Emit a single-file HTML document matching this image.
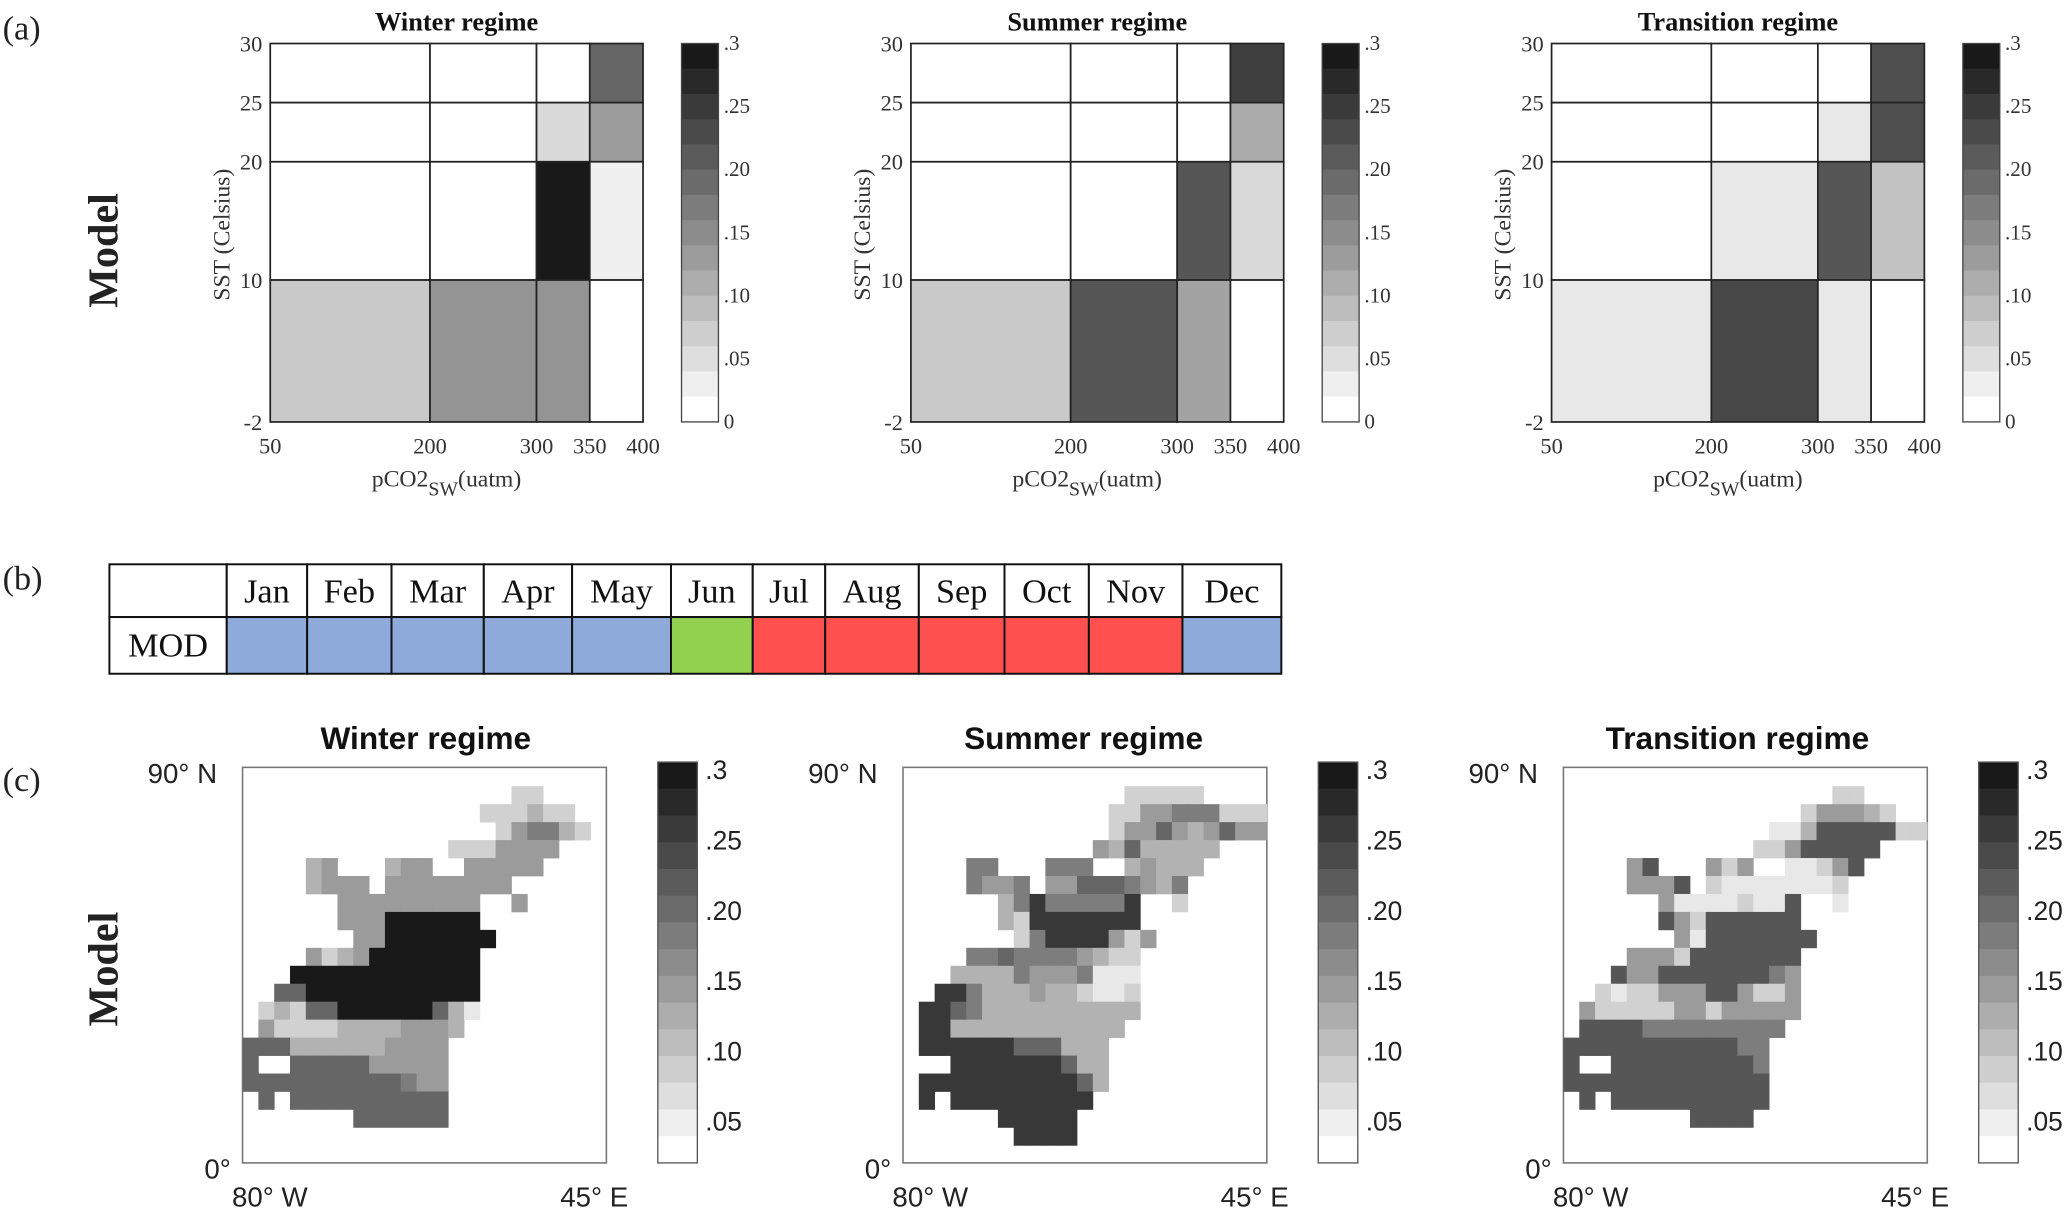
<!DOCTYPE html>
<html><head><meta charset="utf-8"><style>
html,body{margin:0;padding:0;background:#fff;}
svg{display:block;}
.serif{font-family:"Liberation Serif",serif;}
.sans{font-family:"Liberation Sans",sans-serif;}
</style></head><body>
<svg id="root" width="2067" height="1213" viewBox="0 0 1568 920" preserveAspectRatio="none" xmlns="http://www.w3.org/2000/svg">
<g class="serif" fill="#222">
<text x="2" y="30" font-size="26">(a)</text>
<text x="2" y="447" font-size="26">(b)</text>
<text x="2" y="600" font-size="26">(c)</text>
<text transform="translate(89,190) rotate(-90)" text-anchor="middle" font-size="32" font-weight="bold">Model</text>
<text transform="translate(89,735) rotate(-90)" text-anchor="middle" font-size="32" font-weight="bold">Model</text>
</g>
<g id="pa"></g>
<g id="pb"></g>
<g id="pc"></g>
</svg>
<script>
const NS="http://www.w3.org/2000/svg";
// ---- panel (a) data ----
const regimes=["Winter regime","Summer regime","Transition regime"];
const pco2Edges=[50,200,300,350,400];
const sstEdges=[30,25,20,10,-2];
const winterGrid=[[0,0,0,0.2],[0,0,0.05,0.13],[0,0,0.3,0.02],[0.07,0.14,0.14,0]];
const summerGrid=[[0,0,0,0.25],[0,0,0,0.11],[0,0,0.22,0.05],[0.07,0.22,0.12,0]];
const transitionGrid=[[0,0,0,0.23],[0,0,0.03,0.23],[0,0.03,0.22,0.08],[0.03,0.24,0.03,0]];
const cbTicks=[0.3,0.25,0.2,0.15,0.1,0.05,0];
const cbTickLabels=[".3",".25",".20",".15",".10",".05","0"];
const cbTickLabelsC=[".3",".25",".20",".15",".10",".05"];
// ---- panel (b) data ----
const months=["Jan","Feb","Mar","Apr","May","Jun","Jul","Aug","Sep","Oct","Nov","Dec"];
const monthRegime=["W","W","W","W","W","T","S","S","S","S","S","W"];
const monthWidths=[61,64,70,67,75,62,55,71,65,64,71,75];
// ---- panel (c) data (rows north->south, 24 columns; codes = value levels) ----
const levelCodes={".":0,"v":0.03,"l":0.06,"L":0.1,"m":0.13,"M":0.17,"D":0.2,"d":0.22,"K":0.26,"k":0.3};
const winterMap=[
".................ll",
"...............lllLll",
"................lmMMLl",
".............lllmmmm",
"....Lm...Lmm..mmmmm",
"....Lmmm.mmmmmmmm",
"......mmmmmmmmm..m",
"......mmmkkkkkk",
".......mmkkkkkkk",
"....mlLmkkkkkkk",
"...kkkkkkkkkkkk",
"..DDkkkkkkkkkkk",
".lLlDDkkkkkkDLv",
".mllllLLLLmmmL",
"DDDLLLLLLmmmm",
"D..DDDDDmmmmm",
"DDDDDDDDDDMmm",
".D.DDDDDDDDDD",
".......DDDDDD"];
const summerMap=[
"..............lllll",
".............llmmMMMlll",
".............lmmDmLmDmm",
"............mLDLLLLL",
"....MM...MMM..LmLLL",
"....MmmM.mmDDDMmLM",
"......LMKMMMMMK..l",
"......LlKKKKKKK",
".......lMKKKKmlm",
"....MMDMMMMmLll",
"...LLLLMmmmMvvv",
"..KKMLLLmLLlvvl",
".KKDMLLLLLLLLLL",
".KKLLLLLLLLLLL",
".KKKKKKDDDLLL",
"...KKKKKKKDLL",
".KKKKKKKKKKDL",
".K.KKKKKKKKK",
"......KKKKK",
".......KKKK"];
const transitionMap=[
".................ll",
"...............lmmmLl",
".............vvLdddddll",
"............llmddddd",
"....md...mlm..vvlmd",
"....mmmd.lvvvvvvvl",
"......mvvvvlvvd..v",
"......dmldddddd",
".......mvddddddd",
"....mmmlddddddd",
"...dmmdddddddMm",
"..lvllmmmddmllm",
".mlllllmmlmmmmm",
".ddddMMMMMMMMM",
"dddddddddddMM",
"d..dddddddddM",
"ddddddddddddd",
".d.dddddddddd",
"........dddd"];

function el(tag,attrs,parent){const e=document.createElementNS(NS,tag);for(const k in attrs)e.setAttribute(k,attrs[k]);parent.appendChild(e);return e;}
function gray(v){const g=Math.round(255-v/0.3*230);return `rgb(${g},${g},${g})`;}

// ---------- panel (a) ----------
const pa=document.getElementById("pa");
const grids=[winterGrid,summerGrid,transitionGrid];
const offsetsA=[0,486,972];
regimes.forEach((name,i)=>{
  const ox=offsetsA[i];
  const xS=v=>205+ox+(v-50)*0.808;
  const yS=v=>33+(30-v)*8.97;
  const g=el("g",{},pa);
  
  
  const t=el("text",{x:(xS(50)+xS(400))/2,y:23,"text-anchor":"middle","font-size":20,"font-weight":"bold",class:"serif",fill:"#111"},g);
  t.textContent=name;
  
  
  grids[i].forEach((row,r)=>row.forEach((v,c)=>{
    const x0=xS(pco2Edges[c]),x1=xS(pco2Edges[c+1]),y0=yS(sstEdges[r]),y1=yS(sstEdges[r+1]);
    const rc=el("rect",{x:x0,y:y0,width:x1-x0,height:y1-y0,fill:gray(v),stroke:"#222","stroke-width":1.3},g);
    
    
  }));
  sstEdges.forEach(v=>{
    const tx=el("text",{x:xS(50)-6,y:yS(v)+6,"text-anchor":"end","font-size":17,class:"serif",fill:"#333"},g);
    tx.textContent=v;
    
    
  });
  pco2Edges.forEach(v=>{
    const tx=el("text",{x:xS(v),y:344,"text-anchor":"middle","font-size":17,class:"serif",fill:"#333"},g);
    tx.textContent=v;
    
    
  });
  const yl=el("text",{transform:`translate(${ox+174},178) rotate(-90)`,"text-anchor":"middle","font-size":18,class:"serif",fill:"#333"},g);
  yl.textContent="SST (Celsius)";
  
  
  const xl=el("text",{x:ox+282,y:369,"font-size":18,class:"serif",fill:"#333"},g);
  xl.innerHTML='pCO2<tspan font-size="15" dy="7">SW</tspan><tspan dy="-7">(uatm)</tspan>';
  
  
  // colorbar
  const cbx=517+ox,cbT=33,cbB=320,n=15,bh=(cbB-cbT)/n;
  const cb=el("g",{},g);
  
  
  for(let k=0;k<n;k++){const v=0.3*(n-1-k)/(n-1);el("rect",{x:cbx,y:cbT+k*bh,width:28,height:bh+0.5,fill:gray(v)},cb);}
  el("rect",{x:cbx,y:cbT,width:28,height:cbB-cbT,fill:"none",stroke:"#444","stroke-width":1},cb);
  cbTicks.forEach((v,k)=>{
    const y=cbB-(v/0.3)*(cbB-cbT);
    const tx=el("text",{x:cbx+32,y:y+5,"font-size":16,class:"serif",fill:"#333"},cb);
    tx.textContent=cbTickLabels[k];
    
    
  });
});

// ---------- panel (b) ----------
const pb=document.getElementById("pb");
const regimeColor={W:"#8eaadb",T:"#92d050",S:"#ff5050"};
const tX=83,tY=428,rowH=40,firstW=89;
el("rect",{x:tX,y:tY,width:firstW,height:rowH,fill:"#fff",stroke:"#111","stroke-width":1.5},pb);
const modCell=el("rect",{x:tX,y:tY+rowH,width:firstW,height:43,fill:"#fff",stroke:"#111","stroke-width":1.5},pb);


const modT=el("text",{x:tX+firstW/2,y:tY+rowH+30,"text-anchor":"middle","font-size":26,class:"serif",fill:"#111"},pb);
modT.textContent="MOD";
let cx=tX+firstW;
months.forEach((m,i)=>{
  const w=monthWidths[i];
  const h=el("rect",{x:cx,y:tY,width:w,height:rowH,fill:"#fff",stroke:"#111","stroke-width":1.5},pb);
  
  
  const t=el("text",{x:cx+w/2,y:tY+29,"text-anchor":"middle","font-size":26,class:"serif",fill:"#111"},pb);
  t.textContent=m;
  const c=el("rect",{x:cx,y:tY+rowH,width:w,height:43,fill:regimeColor[monthRegime[i]],stroke:"#111","stroke-width":1.5},pb);
  
  
  cx+=w;
});

// ---------- panel (c) ----------
const pc=document.getElementById("pc");
const maps=[winterMap,summerMap,transitionMap];
const titleX=[323,822,1318];
regimes.forEach((name,i)=>{
  const bx=184+501*i,by=582,bw=276,bhh=300;
  const colS=c=>bx+c*12.0;
  const rowS=r=>596.3+r*13.62;
  const g=el("g",{},pc);
  
  
  const t=el("text",{x:titleX[i],y:568,"text-anchor":"middle","font-size":24,"font-weight":"bold",class:"sans",fill:"#111"},g);
  t.textContent=name;
  
  
  el("rect",{x:bx,y:by,width:bw,height:bhh,fill:"#fff",stroke:"#777","stroke-width":1.2},g);
  maps[i].forEach((row,r)=>{
    for(let c=0;c<row.length;c++){
      const v=levelCodes[row[c]];
      if(!v)continue;
      const rc=el("rect",{x:colS(c),y:rowS(r),width:12.3,height:13.9,fill:gray(v)},g);
      
      
    }
  });
  const lab=[["90° N",bx-72,594],["0°",bx-29,894],["80° W",bx-8,915],["45° E",bx+241,915]];
  lab.forEach(([s,x,y])=>{
    const tx=el("text",{x:x,y:y,"font-size":21,class:"sans",fill:"#222"},g);
    tx.textContent=s;
    
    
  });
  const cbx=499+501*i,cbT=578,cbB=882,n=15,bh=(cbB-cbT)/n;
  const cb=el("g",{},g);
  
  
  for(let k=0;k<n;k++){const v=0.3*(n-1-k)/(n-1);el("rect",{x:cbx,y:cbT+k*bh,width:30,height:bh+0.5,fill:gray(v)},cb);}
  el("rect",{x:cbx,y:cbT,width:30,height:cbB-cbT,fill:"none",stroke:"#555","stroke-width":1},cb);
  cbTicks.slice(0,6).forEach((v,k)=>{
    const y=584+(0.3-v)/0.05*53.3;
    const tx=el("text",{x:cbx+36,y:y+7,"font-size":20,class:"sans",fill:"#222"},cb);
    tx.textContent=cbTickLabelsC[k];
    
    
  });
});
</script>
</body></html>
